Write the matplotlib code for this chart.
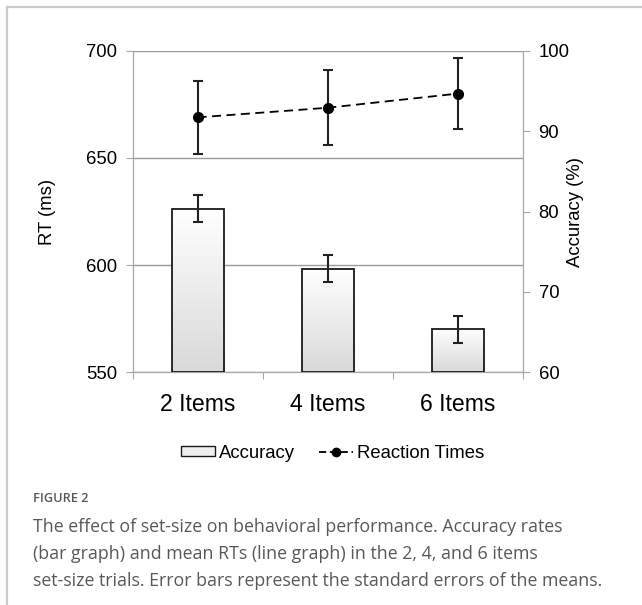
import numpy as np
import matplotlib
matplotlib.use("Agg")
import matplotlib.pyplot as plt
from matplotlib.patches import Patch
from matplotlib.lines import Line2D

categories = ["2 Items", "4 Items", "6 Items"]
accuracy = [80.35, 72.9, 65.35]
accuracy_err = [1.7, 1.65, 1.65]
rt = [668.9, 673.4, 680.0]
rt_err = [17.0, 17.6, 16.7]
rt_ticks = [550, 600, 650, 700]
acc_ticks = [60, 70, 80, 90, 100]

plt.rcParams['font.family'] = ['Liberation Sans', 'DejaVu Sans']

fig = plt.figure(figsize=(6.42, 6.05), dpi=100)
W, H = 642, 605

# frame lines of the figure panel
fig.add_artist(Line2D([7.3 / W, 1.0], [1 - 7.3 / H, 1 - 7.3 / H], color="#cccccc", lw=1.6))
fig.add_artist(Line2D([7.3 / W, 7.3 / W], [0.0, 1 - 7.3 / H], color="#cccccc", lw=1.6))

pos = [132.5 / W, 1 - 372.3 / H, (523.3 - 132.5) / W, (372.3 - 50.7) / H]
ax_rt = fig.add_axes(pos)
ax_acc = ax_rt.twinx()
ax_line = fig.add_axes(pos, sharex=ax_rt, sharey=ax_rt)

x = np.arange(len(categories))
gray = "#a6a6a6"

# RT axis (left) with gridlines
ax_rt.set_ylim(rt_ticks[0], rt_ticks[-1])
ax_rt.set_yticks(rt_ticks)
ax_rt.set_xlim(-0.5, len(categories) - 0.5)
ax_rt.yaxis.grid(True, color="#9a9a9a", lw=1.0)
ax_rt.set_axisbelow(True)
ax_rt.set_xticks(np.arange(-0.5, len(categories), 1.0))
ax_rt.set_xticklabels([])
ax_rt.set_xticks(x, minor=True)
ax_rt.set_xticklabels(categories, minor=True, fontsize=16.6)
ax_rt.tick_params(axis="x", which="major", length=5, color=gray, direction="out")
ax_rt.tick_params(axis="x", which="minor", length=0, pad=15)
ax_rt.tick_params(axis="y", length=5, color=gray, labelsize=13.3, pad=6)
ax_rt.set_ylabel("RT (ms)", fontsize=13.3, labelpad=22)
for s in ax_rt.spines.values():
    s.set_color(gray)
ax_rt.spines["top"].set_visible(False)

# Accuracy axis (right) with gradient bars
ax_acc.set_ylim(acc_ticks[0], acc_ticks[-1])
ax_acc.set_yticks(acc_ticks)
ax_acc.tick_params(axis="y", length=5, color=gray, labelsize=13.3, pad=6)
ax_acc.set_ylabel("Accuracy (%)", fontsize=13.3, labelpad=-2)
for s in ax_acc.spines.values():
    s.set_color(gray)
ax_acc.spines["top"].set_visible(False)
ax_acc.patch.set_visible(False)

bars = ax_acc.bar(x, [a - acc_ticks[0] for a in accuracy], bottom=acc_ticks[0], width=0.4,
                  facecolor="none", edgecolor="#1a1a1a", linewidth=1.3, zorder=3)
grad = np.linspace(1.0, 0.0, 256).reshape(-1, 1)
cmap = matplotlib.colors.LinearSegmentedColormap.from_list("g", ["#d9d9d9", "#ffffff"])
for b in bars:
    bx, by, bw, bh = b.get_x(), b.get_y(), b.get_width(), b.get_height()
    im = ax_acc.imshow(grad, extent=[bx, bx + bw, by, by + bh], aspect="auto",
                       cmap=cmap, vmin=0, vmax=1, origin="upper", zorder=2)
    im.set_clip_path(b)
    b.set_zorder(3)
ax_acc.set_xlim(-0.5, len(categories) - 0.5)
ax_acc.set_ylim(acc_ticks[0], acc_ticks[-1])
ax_acc.errorbar(x, accuracy, yerr=accuracy_err, fmt="none", ecolor="#222222",
                elinewidth=1.5, capsize=3.5, capthick=1.5, zorder=4)

# RT line on top
ax_line.axis("off")
ax_line.patch.set_visible(False)
ax_line.errorbar(x, rt, yerr=rt_err, fmt="none", ecolor="#222222",
                 elinewidth=1.5, capsize=3.5, capthick=1.5, zorder=4)
ax_line.plot(x, rt, color="black", lw=1.3, ls=(0, (5, 3)), marker="o",
             markersize=7, zorder=5)

# legend
h1 = Patch(facecolor="#efefef", edgecolor="#1a1a1a", linewidth=1.0)
h2 = Line2D([], [], color="black", lw=1.3, ls=(0, (4, 2)), marker="o", markersize=6)
fig.legend([h1, h2], ["Accuracy", "Reaction Times"], loc="center",
           bbox_to_anchor=(333 / W, 1 - 453 / H), ncol=2, frameon=False,
           fontsize=13.3, handlelength=1.8, handleheight=0.5, handletextpad=0.25,
           columnspacing=1.3)

# caption
cap_color = "#585858"
fig.text(33 / W, 1 - 498 / H, "FIGURE 2", fontsize=9.2, color=cap_color,
         family=["Open Sans", "DejaVu Sans"], weight="semibold", va="center")
caption = ["The effect of set-size on behavioral performance. Accuracy rates",
           "(bar graph) and mean RTs (line graph) in the 2, 4, and 6 items",
           "set-size trials. Error bars represent the standard errors of the means."]
for i, line in enumerate(caption):
    fig.text(33 / W, 1 - (527 + 27 * i) / H, line, fontsize=12.8, color=cap_color,
             family=["Open Sans", "DejaVu Sans"], va="center")

fig.savefig("out.png", dpi=100)
